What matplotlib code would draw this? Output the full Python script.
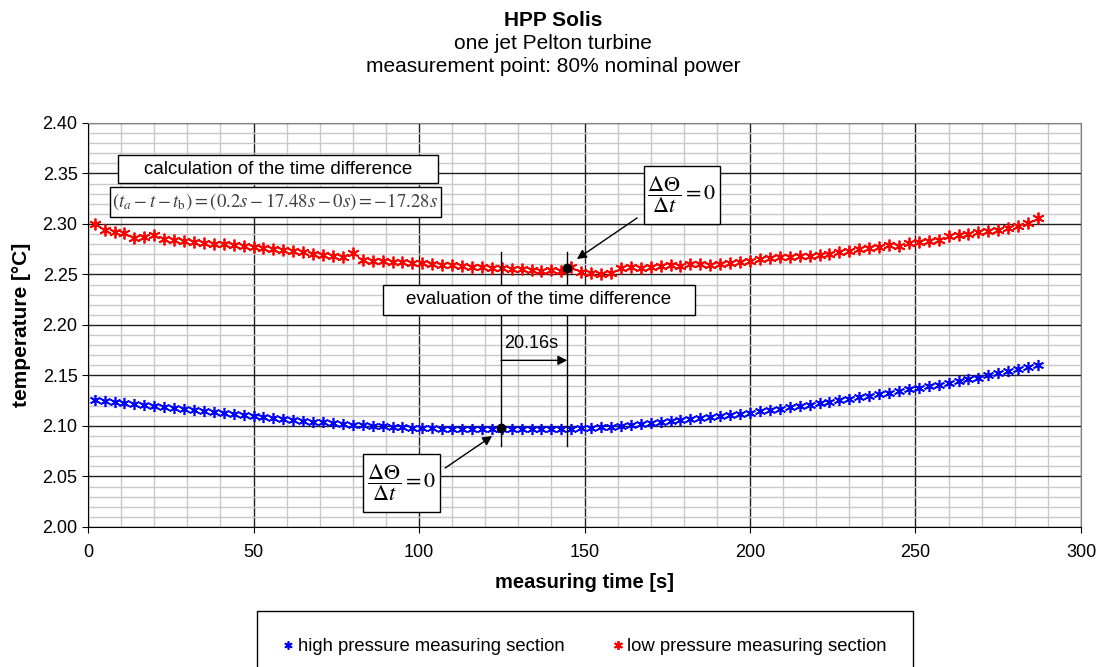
import matplotlib
matplotlib.use('Agg')
import matplotlib.pyplot as plt
from matplotlib.patches import Rectangle
from matplotlib.ticker import MultipleLocator

plt.rcParams['font.family'] = ['Liberation Sans', 'DejaVu Sans']

# measuring time [s]
t = list(range(2, 288, 3))

# high pressure measuring section [°C]
hp = [2.126, 2.125, 2.124, 2.123, 2.122, 2.121, 2.120, 2.119, 2.118, 2.117,
      2.116, 2.115, 2.114, 2.113, 2.112, 2.111, 2.110, 2.109, 2.108, 2.107,
      2.106, 2.105, 2.104, 2.104, 2.103, 2.102, 2.101, 2.101, 2.100, 2.100,
      2.099, 2.099, 2.098, 2.098, 2.098, 2.097, 2.097, 2.097, 2.097, 2.097,
      2.097, 2.097, 2.097, 2.097, 2.097, 2.097, 2.097, 2.097, 2.097, 2.098,
      2.098, 2.099, 2.099, 2.100, 2.101, 2.102, 2.103, 2.104, 2.105, 2.106,
      2.107, 2.108, 2.109, 2.110, 2.111, 2.112, 2.113, 2.115, 2.116, 2.117,
      2.119, 2.120, 2.121, 2.123, 2.124, 2.126, 2.127, 2.129, 2.130, 2.132,
      2.133, 2.135, 2.137, 2.138, 2.140, 2.141, 2.143, 2.145, 2.147, 2.148,
      2.150, 2.152, 2.154, 2.156, 2.158, 2.160]

# low pressure measuring section [°C]
lp = [2.300, 2.294, 2.292, 2.291, 2.286, 2.287, 2.289, 2.285, 2.284, 2.283,
      2.282, 2.281, 2.280, 2.280, 2.279, 2.278, 2.277, 2.276, 2.275, 2.274,
      2.273, 2.272, 2.270, 2.269, 2.268, 2.267, 2.271, 2.264, 2.263, 2.263,
      2.262, 2.262, 2.261, 2.261, 2.260, 2.259, 2.259, 2.258, 2.257, 2.257,
      2.256, 2.256, 2.255, 2.255, 2.254, 2.253, 2.254, 2.253, 2.257, 2.252,
      2.251, 2.250, 2.251, 2.256, 2.257, 2.256, 2.257, 2.258, 2.259, 2.258,
      2.260, 2.260, 2.259, 2.260, 2.261, 2.262, 2.263, 2.265, 2.266, 2.267,
      2.267, 2.268, 2.268, 2.269, 2.270, 2.272, 2.273, 2.275, 2.276, 2.277,
      2.279, 2.278, 2.281, 2.282, 2.283, 2.284, 2.288, 2.289, 2.290, 2.292,
      2.293, 2.294, 2.296, 2.298, 2.301, 2.306]

# точки dΘ/dt = 0
t_hp0, y_hp0 = 124.8, 2.098
t_lp0, y_lp0 = 144.8, 2.2564

star = (6, 2, 0)  # звездочка как в Excel

fig = plt.figure(figsize=(10.99, 6.67), dpi=100)
ax = fig.add_axes([0.0801, 0.2099, 0.9035, 0.6057])

ax.plot(t, hp, linestyle='none', marker=star, color='#0000ff', markersize=8,
        markeredgewidth=1.2, label='high pressure measuring section', zorder=3)
ax.plot(t, lp, linestyle='none', marker=star, color='#ff0000', markersize=8.5,
        markeredgewidth=1.3, label='low pressure measuring section', zorder=3)

ax.set_xlim(0, 300)
ax.set_ylim(2.0, 2.4)
ax.xaxis.set_major_locator(MultipleLocator(50))
ax.xaxis.set_minor_locator(MultipleLocator(10))
ax.yaxis.set_major_locator(MultipleLocator(0.05))
ax.yaxis.set_minor_locator(MultipleLocator(0.01))
ax.yaxis.set_major_formatter(matplotlib.ticker.FormatStrFormatter('%.2f'))
ax.grid(which='minor', color='#c8c8c8', linewidth=1.0, zorder=0)
ax.grid(which='major', color='#202020', linewidth=1.0, zorder=1)
ax.set_axisbelow(True)
ax.tick_params(which='minor', length=0)
ax.tick_params(which='major', labelsize=13, length=4, direction='out')
ax.tick_params(axis='x', pad=8)
for s in ['top', 'right']:
    ax.spines[s].set_color('#808080')
ax.set_xlabel('measuring time [s]', fontsize=14.5, fontweight='bold', labelpad=9)
ax.set_ylabel('temperature [°C]', fontsize=15, fontweight='bold', labelpad=8)

# заголовок
fig.text(0.503, 0.970, 'HPP Solis', ha='center', va='center', fontsize=15, fontweight='bold')
fig.text(0.503, 0.935, 'one jet Pelton turbine', ha='center', va='center', fontsize=15)
fig.text(0.503, 0.900, 'measurement point: 80% nominal power', ha='center', va='center', fontsize=15)

# рамки с текстом
def box(x0, y0, x1, y1, txt, size, math=False, color='black'):
    ax.add_patch(Rectangle((x0, y0), x1 - x0, y1 - y0, facecolor='white',
                           edgecolor='black', linewidth=1.0, zorder=5))
    kw = dict(math_fontfamily='stix') if math else {}
    ax.text((x0 + x1) / 2, (y0 + y1) / 2, txt, ha='center', va='center',
            fontsize=size, color=color, zorder=6, **kw)

box(9.1, 2.3406, 105.7, 2.3683, 'calculation of the time difference', 13.5)
box(6.6, 2.3069, 106.6, 2.3366,
    r'$\left(t_a-t-t_{\rm b}\right)=\left(0.2s-17.48s-0s\right)=-17.28s$',
    13.5, math=True, color='#404040')
box(168.0, 2.3000, 190.9, 2.3574, r'$\dfrac{\Delta\Theta}{\Delta t}=0$', 16, math=True)
box(89.1, 2.2099, 183.4, 2.2396, 'evaluation of the time difference', 13.5)
box(83.1, 2.0149, 106.3, 2.0723, r'$\dfrac{\Delta\Theta}{\Delta t}=0$', 16, math=True)

# вертикальные линии и разница времени
ax.plot([t_hp0, t_hp0], [2.080, 2.272], color='black', linewidth=1.0, zorder=4)
ax.plot([t_lp0, t_lp0], [2.080, 2.272], color='black', linewidth=1.0, zorder=4)
ax.annotate('', xy=(t_lp0, 2.165), xytext=(t_hp0, 2.165),
            arrowprops=dict(arrowstyle='-|>', color='black', lw=1.0,
                            mutation_scale=14, shrinkA=0, shrinkB=0), zorder=6)
ax.text(t_hp0 + 0.8, 2.182, '20.16s', fontsize=13, ha='left', va='center', zorder=6)

ax.plot([t_hp0, t_lp0], [y_hp0, y_lp0], linestyle='none', marker='o',
        color='black', markersize=6, zorder=7)

ax.annotate('', xy=(147.7, 2.2653), xytext=(165.9, 2.306),
            arrowprops=dict(arrowstyle='-|>', color='black', lw=1.0,
                            mutation_scale=14, shrinkA=0, shrinkB=0), zorder=6)
ax.annotate('', xy=(122.1, 2.0901), xytext=(107.9, 2.0584),
            arrowprops=dict(arrowstyle='-|>', color='black', lw=1.0,
                            mutation_scale=14, shrinkA=0, shrinkB=0), zorder=6)

# легенда
fig.patches.append(Rectangle((0.2339, -0.02), 0.597, 0.104, transform=fig.transFigure,
                             facecolor='white', edgecolor='black', linewidth=1.0))
leg = fig.legend(loc='center', bbox_to_anchor=(0.532, 0.030), ncol=2, fontsize=13.3,
                 frameon=False, handletextpad=0.2, handlelength=0.6,
                 columnspacing=2.6, borderaxespad=0.0, markerscale=0.75)

fig.savefig('out.png', dpi=100)
